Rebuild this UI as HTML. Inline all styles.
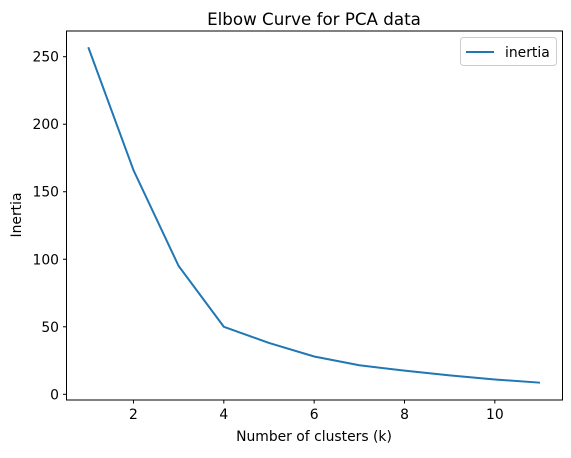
<!DOCTYPE html>
<html><head><meta charset="utf-8"><style>
body{margin:0;background:#fff;font-family:"Liberation Sans","DejaVu Sans",sans-serif;}
svg text{font-family:"DejaVu Sans","Liberation Sans",sans-serif;}
</style></head><body>
<svg id="chart" width="571" height="453" xmlns="http://www.w3.org/2000/svg">
<rect width="571" height="453" fill="#fff"/>
<text x="314" y="25" font-size="16.7" text-anchor="middle" fill="#000">Elbow Curve for PCA data</text>
<g id="grid"></g>
<polyline id="line" fill="none" stroke="#1f77b4" stroke-width="2"/>
<rect x="66.5" y="31" width="496" height="369" fill="none" stroke="#000" stroke-width="1"/>
<text x="314" y="441" font-size="13.9" text-anchor="middle">Number of clusters (k)</text>
<text transform="translate(21,215) rotate(-90)" font-size="13.9" text-anchor="middle">Inertia</text>
<g>
<rect x="460.5" y="37.5" width="96" height="28" rx="3" fill="#fff" stroke="#ccc"/>
<line x1="466" y1="52" x2="494" y2="52" stroke="#1f77b4" stroke-width="2"/>
<text x="505" y="57" font-size="13.9">inertia</text>
</g>
</svg>
<script>
const ks=[1,2,3,4,5,6,7,8,9,10,11];
const inertia=[257,166,95,50,38,28,21.5,17.5,14,11,8.6];
const xTicks=[2,4,6,8,10];
const yTicks=[0,50,100,150,200,250];
const sx=v=>88.3+(v-1)*45.17;
const sy=v=>394.3-v*1.3504;
const svg=document.getElementById('chart'),g=document.getElementById('grid');
const NS='http://www.w3.org/2000/svg';
function mk(t,a){const e=document.createElementNS(NS,t);for(const k in a)e.setAttribute(k,a[k]);return e;}
xTicks.forEach(v=>{
const l=mk('line',{x1:sx(v),x2:sx(v),y1:400,y2:403.5,stroke:'#000'});


g.appendChild(l);
const t=mk('text',{x:sx(v),y:419,'font-size':13.9,'text-anchor':'middle'});


t.textContent=v;g.appendChild(t);
});
yTicks.forEach(v=>{
const l=mk('line',{x1:63,x2:66.5,y1:sy(v),y2:sy(v),stroke:'#000'});


g.appendChild(l);
const t=mk('text',{x:59,y:sy(v)+5,'font-size':13.9,'text-anchor':'end'});


t.textContent=v;g.appendChild(t);
});
document.getElementById('line').setAttribute('points',ks.map((k,i)=>sx(k)+','+sy(inertia[i])).join(' '));
</script>
</body></html>
